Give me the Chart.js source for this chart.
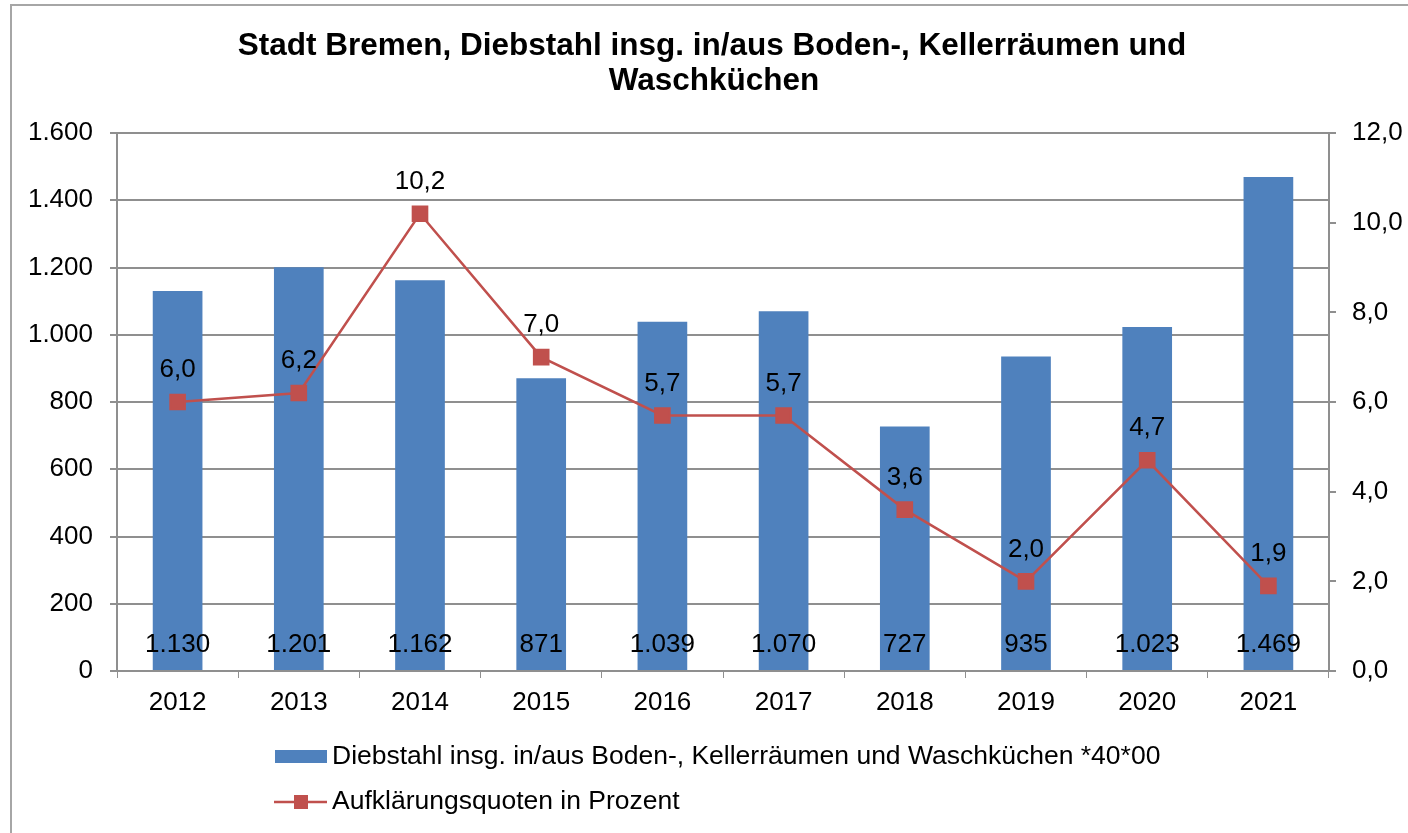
<!DOCTYPE html>
<html><head><meta charset="utf-8">
<script src="https://cdn.jsdelivr.net/npm/chart.js@4.4.0/dist/chart.umd.min.js"></script>
<style>html,body{margin:0;padding:0;background:#fff;}#wrap{width:1408px;height:833px;position:relative;}</style>
</head><body><div id="wrap"><canvas id="c" width="1408" height="833"></canvas></div>
<script>
const categories = ['2012','2013','2014','2015','2016','2017','2018','2019','2020','2021'];
const barValues = [1130,1201,1162,871,1039,1070,727,935,1023,1469];
const lineValues = [6.0,6.2,10.2,7.0,5.7,5.7,3.6,2.0,4.7,1.9];
const leftTicks = [0,200,400,600,800,1000,1200,1400,1600];
const rightTicks = [0,2,4,6,8,10,12];
const titleLines = ['Stadt Bremen, Diebstahl insg. in/aus Boden-, Kellerräumen und','Waschküchen'];
const barLabel = 'Diebstahl insg. in/aus Boden-, Kellerräumen und Waschküchen *40*00';
const lineLabel = 'Aufklärungsquoten in Prozent';

const FONT = 'Arial, "Liberation Sans", sans-serif';
const BLUE = '#4F81BD', RED = '#C0504D', GRID = '#8f8f8f';

function fmtThousand(v){ return String(v).replace(/\B(?=(\d{3})+(?!\d))/g,'.'); }
function fmtComma(v){ return v.toFixed(1).replace('.',','); }

const deco = {
  id:'deco',
  beforeDraw(chart){
    const ctx = chart.ctx;
    ctx.save();
    ctx.fillStyle='#fff'; ctx.fillRect(0,0,chart.width,chart.height);
    ctx.strokeStyle='#a6a6a6'; ctx.lineWidth=2;
    ctx.strokeRect(11,5,1430,860);
    ctx.restore();
  },
  afterDraw(chart){
    const ctx = chart.ctx;
    ctx.save();
    // title
    ctx.fillStyle='#000'; ctx.font='bold 31.5px '+FONT; ctx.textAlign='center'; ctx.textBaseline='middle';
    ctx.fillText(titleLines[0],712,46);
    ctx.fillText(titleLines[1],714,81);
    // bar labels
    ctx.font='26px '+FONT;
    const m0 = chart.getDatasetMeta(0);
    const yS = chart.scales.y;
    m0.data.forEach((el,i)=>{ ctx.fillText(fmtThousand(barValues[i]), el.x, yS.getPixelForValue(0)-26); });
    // line labels
    const m1 = chart.getDatasetMeta(1);
    m1.data.forEach((el,i)=>{ ctx.fillText(fmtComma(lineValues[i]), el.x, el.y-32); });
    // legend
    ctx.fillStyle=BLUE; ctx.fillRect(275,750,52,13);
    ctx.fillStyle='#000'; ctx.textAlign='left'; ctx.font='26.5px '+FONT;
    ctx.fillText(barLabel,332,757);
    ctx.strokeStyle=RED; ctx.lineWidth=2.5; ctx.beginPath(); ctx.moveTo(274,802); ctx.lineTo(327,802); ctx.stroke();
    ctx.fillStyle=RED; ctx.fillRect(294,795,14,14);
    ctx.fillStyle='#000'; ctx.fillText(lineLabel,332,802);
    ctx.restore();
  }
};

new Chart(document.getElementById('c'),{
  data:{
    labels:categories,
    datasets:[
      {type:'bar',label:barLabel,data:barValues,yAxisID:'y',backgroundColor:BLUE,barPercentage:0.41,categoryPercentage:1,order:1},
      {type:'line',label:lineLabel,data:lineValues,yAxisID:'y2',borderColor:RED,backgroundColor:RED,borderWidth:2.5,
       pointStyle:'rect',pointRadius:10,pointHoverRadius:10,tension:0,order:0}
    ]
  },
  options:{
    responsive:false,animation:false,
    layout:{padding:{left:10,right:0,top:133,bottom:100}},
    plugins:{legend:{display:false},title:{display:false},tooltip:{enabled:false}},
    scales:{
      x:{
        grid:{offset:true,drawOnChartArea:false,color:GRID,tickLength:7},
        border:{color:GRID,width:2},
        ticks:{color:'#000',font:{family:FONT,size:26},padding:9,maxRotation:0},
        afterFit(s){ s.height=62; }
      },
      y:{
        position:'left',min:0,max:1600,
        afterBuildTicks(s){ s.ticks = leftTicks.map(v=>({value:v})); },
        ticks:{color:'#000',font:{family:FONT,size:26},padding:17,callback:v=>fmtThousand(v)},
        grid:{color:GRID,lineWidth:2,tickLength:7},
        border:{color:GRID,width:2},
        afterFit(s){ s.width=107; }
      },
      y2:{
        position:'right',min:0,max:12,
        afterBuildTicks(s){ s.ticks = rightTicks.map(v=>({value:v})); },
        ticks:{color:'#000',font:{family:FONT,size:26},padding:16,callback:v=>fmtComma(v)},
        grid:{drawOnChartArea:false,color:GRID,lineWidth:2,tickLength:7},
        border:{color:GRID,width:2},
        afterFit(s){ s.width=79; }
      }
    }
  },
  plugins:[deco]
});
</script></body></html>
